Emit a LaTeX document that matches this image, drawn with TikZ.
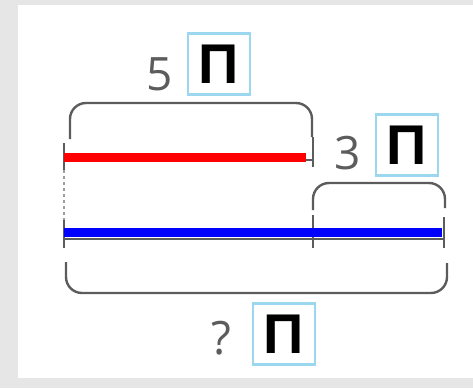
\documentclass[tikz,border=0pt]{standalone}
\usepackage{fontspec}
\setmainfont{Open Sans}
\newfontfamily\boxfont{Liberation Sans}
\usepackage{xcolor}
\usetikzlibrary{positioning}
\definecolor{framegray}{HTML}{E6E6E6}
\definecolor{bracegray}{HTML}{5C5C5C}
\definecolor{boxblue}{HTML}{9BD7EE}

\tikzset{
	brace/.style = {draw = bracegray, line width = 2.4pt, rounded corners = 16pt},
	tick/.style = {draw = bracegray, line width = 2.4pt},
	answerbox/.style = {draw = boxblue, line width = 2.4pt, minimum width = 62pt, minimum height = 61pt, inner sep = 0pt, font = \boxfont\bfseries\fontsize{56}{56}\selectfont},
	number/.style = {text = bracegray, inner sep = 0pt, font = \fontsize{46}{46}\selectfont}
}

\begin{document}
\begin{tikzpicture}[x = 1pt, y = -1pt]
	\def\xl{64};
	\def\xm{313};
	\def\xr{444};
	\def\yred{157};
	\def\yblue{232};
	
	\useasboundingbox (0,0) rectangle (473,388);
	\fill [framegray] (0,0) rectangle (473,388);
	\fill [white] (18,5) rectangle (473,378);
	
	% braces
	\draw [brace] (70,139) -- (70,103) -- (312,103) -- (312,137);
	\draw [brace] (\xm,210) -- (\xm,183) -- (445,183) -- (445,208);
	\draw [brace] (66,262) -- (66,293) -- (447,293) -- (447,263);
	
	% ticks
	\draw [tick] (\xl,143) -- (\xl,170);
	\draw [tick, bracegray!60, dash pattern = on 3pt off 3pt] (\xl,170) -- (\xl,220);
	\draw [tick] (\xl,220) -- (\xl,248);
	\draw [tick] (\xm,137) -- (\xm,167);
	\draw [tick] (306,160) -- (\xm,160);
	\draw [tick] (\xm,215) -- (\xm,248);
	\draw [tick] (\xr,217) -- (\xr,248);
	
	% segments
	\draw [tick, line width = 2pt] (\xl,239) -- (\xr,239);
	\draw [red, line width = 9pt] (\xl,\yred) -- (306,\yred);
	\draw [blue, line width = 9pt] (\xl,\yblue) -- (442,\yblue);
	
	% labels
	\node [answerbox] (box5) at (219,64) {П};
	\node [number, left = 14pt of box5, yshift = -10pt] (five) {5};
	\node [answerbox] (box3) at (407,145) {П};
	\node [number, left = 14pt of box3, yshift = -8pt] (three) {3};
	\node [answerbox] (boxq) at (284,334) {П};
	\node [number, left = 20pt of boxq, yshift = -4pt] (question) {?};
\end{tikzpicture}
\end{document}
